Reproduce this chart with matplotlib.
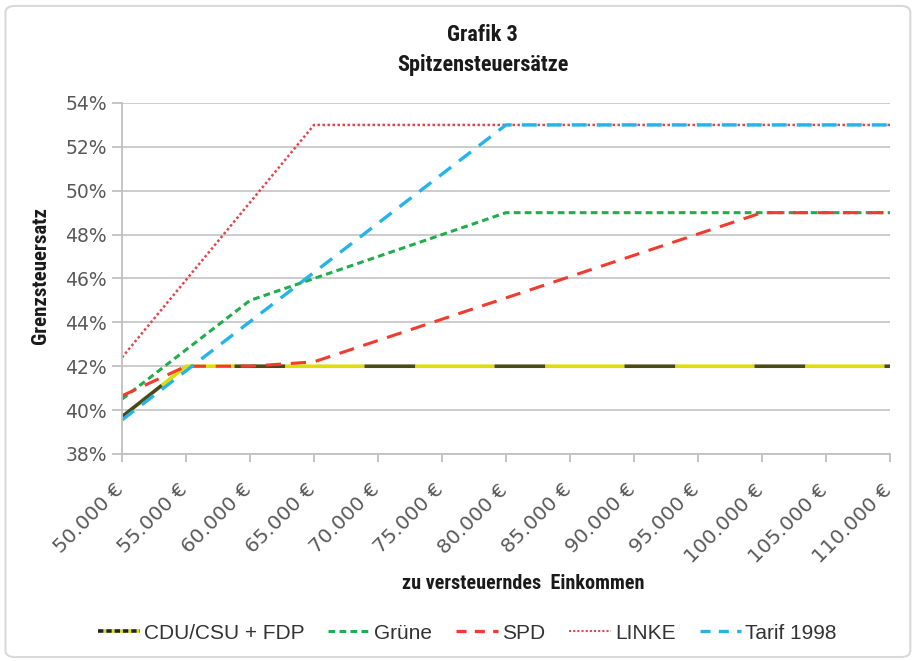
import matplotlib
matplotlib.use('Agg')
import matplotlib.pyplot as plt
from matplotlib.lines import Line2D
from matplotlib.patches import FancyBboxPatch
from matplotlib.ticker import FuncFormatter
from matplotlib.transforms import ScaledTranslation

# income levels (EUR)
einkommen_cdu = [50000, 55000, 110000]
cdu = [39.7, 42.0, 42.0]
einkommen_gruene = [50000, 60000, 80000, 110000]
gruene = [40.5, 45.0, 49.0, 49.0]
einkommen_spd = [50000, 55000, 60000, 65000, 100000, 110000]
spd = [40.65, 42.0, 42.0, 42.2, 49.0, 49.0]
einkommen_linke = [50000, 65000, 110000]
linke = [42.4, 53.0, 53.0]
einkommen_tarif = [50000, 80000, 110000]
tarif = [39.55, 53.0, 53.0]

x_ticks = list(range(50000, 110001, 5000))
y_ticks = list(range(38, 55, 2))

narrow = ['Roboto Condensed', 'Liberation Sans Narrow', 'Liberation Sans', 'DejaVu Sans']
grau = '#595959'

fig = plt.figure(figsize=(9.14, 6.61), dpi=100)
ax = fig.add_axes([0.1335, 0.3132, 0.8402, 0.531])

ax.plot(einkommen_cdu, cdu, color='#4a4a14', gapcolor='#dede00', lw=2.6,
        dashes=(14, 22), solid_capstyle='butt')
ax.plot(einkommen_gruene, gruene, color='#1fae4b', lw=2.2, dashes=(2.2, 1.4))
ax.plot(einkommen_spd, spd, color='#f23a2e', lw=2.2, dashes=(5, 3.2))
ax.plot(einkommen_linke, linke, color='#e0474c', lw=1.8, dashes=(1, 1))
ax.plot(einkommen_tarif, tarif, color='#25b4ea', lw=2.4, dashes=(4.5, 3))

ax.set_xlim(50000, 110000)
ax.set_ylim(38, 54)
ax.set_xticks(x_ticks)
ax.set_yticks(y_ticks)
ax.xaxis.set_major_formatter(FuncFormatter(lambda v, p: f'{int(v):,} €'.replace(',', '.')))
ax.yaxis.set_major_formatter(FuncFormatter(lambda v, p: f'{int(v)}%'))
ax.grid(axis='y', color='#c8c8c8', lw=1.3)
ax.set_axisbelow(True)
for s in ['top', 'right']:
    ax.spines[s].set_visible(False)
for s in ['left', 'bottom']:
    ax.spines[s].set_color('#c0c0c0')
    ax.spines[s].set_linewidth(1.3)
ax.tick_params(axis='y', length=7, width=1.3, color='#c0c0c0', labelsize=13.5,
               labelcolor=grau, pad=4, labelfontfamily='DejaVu Sans')
ax.tick_params(axis='x', length=6, width=1.3, color='#c0c0c0', labelsize=14.5,
               labelcolor=grau, pad=13, labelfontfamily='DejaVu Sans')
shift = ScaledTranslation(-6 / 72, 0, fig.dpi_scale_trans)
for lbl in ax.get_xticklabels():
    lbl.set_rotation(45)
    lbl.set_ha('right')
    lbl.set_rotation_mode('anchor')
    lbl.set_transform(lbl.get_transform() + shift)

fig.text(0.528, 0.947, 'Grafik 3', ha='center', va='center', fontsize=16,
         fontweight='bold', family=narrow, color='#1a1a1a')
fig.text(0.528, 0.901, 'Spitzensteuersätze', ha='center', va='center', fontsize=16,
         fontweight='bold', family=narrow, color='#1a1a1a')
fig.text(0.044, 0.583, 'Grenzsteuersatz', ha='center', va='center', rotation=90,
         fontsize=15, fontweight='bold', family=narrow, color='#1a1a1a')
fig.text(0.572, 0.118, 'zu versteuerndes  Einkommen', ha='center', va='center',
         fontsize=14.5, fontweight='bold', family=narrow, color='#1a1a1a')

handles = [
    Line2D([], [], color='#222222', gapcolor='#e0e000', lw=2.6, dashes=(1.5, 0.8)),
    Line2D([], [], color='#1fae4b', lw=2.2, dashes=(2.2, 1.4)),
    Line2D([], [], color='#f23a2e', lw=2.4, dashes=(3, 2.5)),
    Line2D([], [], color='#e0474c', lw=1.5, dashes=(1, 1)),
    Line2D([], [], color='#25b4ea', lw=2.4, dashes=(3, 2.5)),
]
labels = ['CDU/CSU + FDP', 'Grüne', 'SPD', 'LINKE', 'Tarif 1998']
leg = fig.legend(handles, labels, loc='center', bbox_to_anchor=(0.5115, 0.042), ncol=5,
                 frameon=False, prop={'family': ['Liberation Sans', 'DejaVu Sans'], 'size': 15},
                 handlelength=2.0, handletextpad=0.2, columnspacing=1.15)
for t in leg.get_texts():
    t.set_color('#333333')

fig.patches.append(FancyBboxPatch((0.006, 0.006), 0.99, 0.985,
                                  boxstyle='round,pad=0,rounding_size=0.01',
                                  transform=fig.transFigure, fill=False,
                                  ec='#d9d9d9', lw=1.5))

fig.savefig('out.png', dpi=100)
